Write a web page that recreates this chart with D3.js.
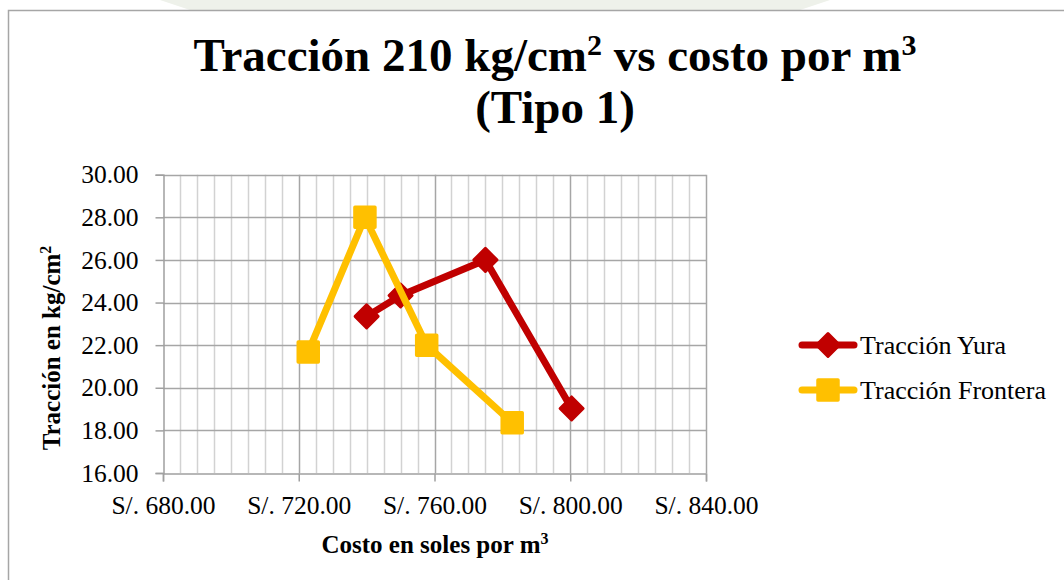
<!DOCTYPE html>
<html><head><meta charset="utf-8">
<script src="https://cdn.jsdelivr.net/npm/d3@7"></script>
<style>html,body{margin:0;padding:0;background:#fff;}svg{display:block;}</style>
</head><body>
<script>
const yuraCost = [740, 750, 775, 800.4];
const yuraTraction = [23.35, 24.33, 26.0, 19.03];
const fronteraCost = [722.8, 739.5, 757.7, 782.9];
const fronteraTraction = [21.68, 28.0, 22.0, 18.36];
const seriesNames = ["Tracción Yura", "Tracción Frontera"];
const xTicks = [680, 720, 760, 800, 840];
const yTicks = [16, 18, 20, 22, 24, 26, 28, 30];

const W = 1064, H = 580;
const font = "'Liberation Serif','Times New Roman',serif";
const svg = d3.select("body").append("svg").attr("width", W).attr("height", H);

// faint watermark above frame
svg.append("path").attr("d","M160,0 L830,0 L800,10 L190,10 Z").attr("fill","#eef1ea");
// frame
svg.append("rect").attr("x",8.5).attr("y",10.5).attr("width",1070).attr("height",600)
  .attr("fill","#fff").attr("stroke","#a6a6a6").attr("stroke-width",1.5);

const x = d3.scaleLinear().domain([680, 840]).range([163, 706]);
const y = d3.scaleLinear().domain([16, 30]).range([473, 174.7]);

const g = svg.append("g");
const minor = d3.range(680, 841, 5).filter(v => v % 40 !== 0);
g.selectAll(".mv").data(minor).join("line")
  .attr("x1", d => Math.round(x(d)) + 0.5).attr("x2", d => Math.round(x(d)) + 0.5)
  .attr("y1", y(30)).attr("y2", y(16)).attr("stroke", "#d2d2d2").attr("stroke-width", 1.5);
g.selectAll(".Mv").data(xTicks.slice(1)).join("line")
  .attr("x1", d => Math.round(x(d)) + 0.5).attr("x2", d => Math.round(x(d)) + 0.5)
  .attr("y1", y(30)).attr("y2", y(16)).attr("stroke", "#a6a6a6").attr("stroke-width", 1.5);
g.selectAll(".h").data(yTicks.slice(1)).join("line")
  .attr("x1", x(680)).attr("x2", x(840))
  .attr("y1", d => Math.round(y(d)) + 0.5).attr("y2", d => Math.round(y(d)) + 0.5)
  .attr("stroke", "#a6a6a6").attr("stroke-width", 1.5);

const xAxis = d3.axisBottom(x).tickValues(xTicks).tickSize(8).tickPadding(14)
  .tickFormat(d => "S/. " + d3.format(".2f")(d));
const yAxis = d3.axisLeft(y).tickValues(yTicks).tickSize(8).tickPadding(17)
  .tickFormat(d3.format(".2f"));
const gx = svg.append("g").attr("transform", `translate(0,${Math.round(y(16))+0.5})`).call(xAxis);
const gy = svg.append("g").attr("transform", `translate(${Math.round(x(680))+0.5},0)`).call(yAxis);
[gx, gy].forEach(a => {
  a.selectAll("path,line").attr("stroke", "#a0a0a0").attr("stroke-width", 1.5);
  a.selectAll("text").attr("font-family", font).attr("font-size", 25.5).attr("fill", "#000");
});

const series = [
  {name: seriesNames[0], xs: yuraCost, ys: yuraTraction, color: "#C00000", shape: "diamond"},
  {name: seriesNames[1], xs: fronteraCost, ys: fronteraTraction, color: "#FFC000", shape: "square"}
];
const line = d3.line().x(d => x(d[0])).y(d => y(d[1]));
const diamond = s => `M0,${-s}L${s},0L0,${s}L${-s},0Z`;
function marker(sel, s, color) {
  if (s === "diamond") {
    sel.append("path").attr("d", diamond(11.5)).attr("fill", color)
      .attr("stroke", color).attr("stroke-width", 3).attr("stroke-linejoin", "round");
  } else {
    sel.append("rect").attr("x", -10).attr("y", -10).attr("width", 20).attr("height", 20)
      .attr("fill", color).attr("stroke", color).attr("stroke-width", 3.5).attr("stroke-linejoin", "round");
  }
}
series.forEach(s => {
  const pts = s.xs.map((v, i) => [v, s.ys[i]]);
  svg.append("path").attr("d", line(pts)).attr("fill", "none").attr("stroke", s.color)
    .attr("stroke-width", 7).attr("stroke-linejoin", "round").attr("stroke-linecap", "round");
  pts.forEach(p => {
    const m = svg.append("g").attr("transform", `translate(${x(p[0])},${y(p[1])})`);
    marker(m, s.shape, s.color);
  });
});

const legY = [345, 390];
series.forEach((s, i) => {
  const lg = svg.append("g").attr("transform", `translate(0,${legY[i]})`);
  lg.append("line").attr("x1", 802).attr("x2", 854).attr("y1", 0).attr("y2", 0)
    .attr("stroke", s.color).attr("stroke-width", 7).attr("stroke-linecap", "round");
  const m = lg.append("g").attr("transform", "translate(828,0)");
  marker(m, s.shape, s.color);
  lg.append("text").attr("x", 860).attr("y", 9).attr("font-family", font)
    .attr("font-size", 26).text(s.name);
});

const t = svg.append("text").attr("text-anchor", "middle").attr("font-family", font)
  .attr("font-weight", "bold").attr("font-size", 47);
const l1 = t.append("tspan").attr("x", 555).attr("y", 71);
l1.append("tspan").text("Tracción 210 kg/cm");
l1.append("tspan").attr("font-size", 30).attr("dy", -16).text("2");
l1.append("tspan").attr("dy", 16).text(" vs costo por m");
l1.append("tspan").attr("font-size", 30).attr("dy", -16).text("3");
t.append("tspan").attr("x", 555).attr("y", 123).text("(Tipo 1)");

const xt = svg.append("text").attr("x", 435).attr("y", 553).attr("text-anchor", "middle")
  .attr("font-family", font).attr("font-weight", "bold").attr("font-size", 25);
xt.append("tspan").text("Costo en soles por m");
xt.append("tspan").attr("font-size", 16).attr("dy", -9).text("3");

const yt = svg.append("text").attr("transform", "translate(60,348) rotate(-90)")
  .attr("text-anchor", "middle").attr("font-family", font).attr("font-weight", "bold").attr("font-size", 25);
yt.append("tspan").text("Tracción en kg/cm");
yt.append("tspan").attr("font-size", 16).attr("dy", -9).text("2");
</script>
</body></html>
